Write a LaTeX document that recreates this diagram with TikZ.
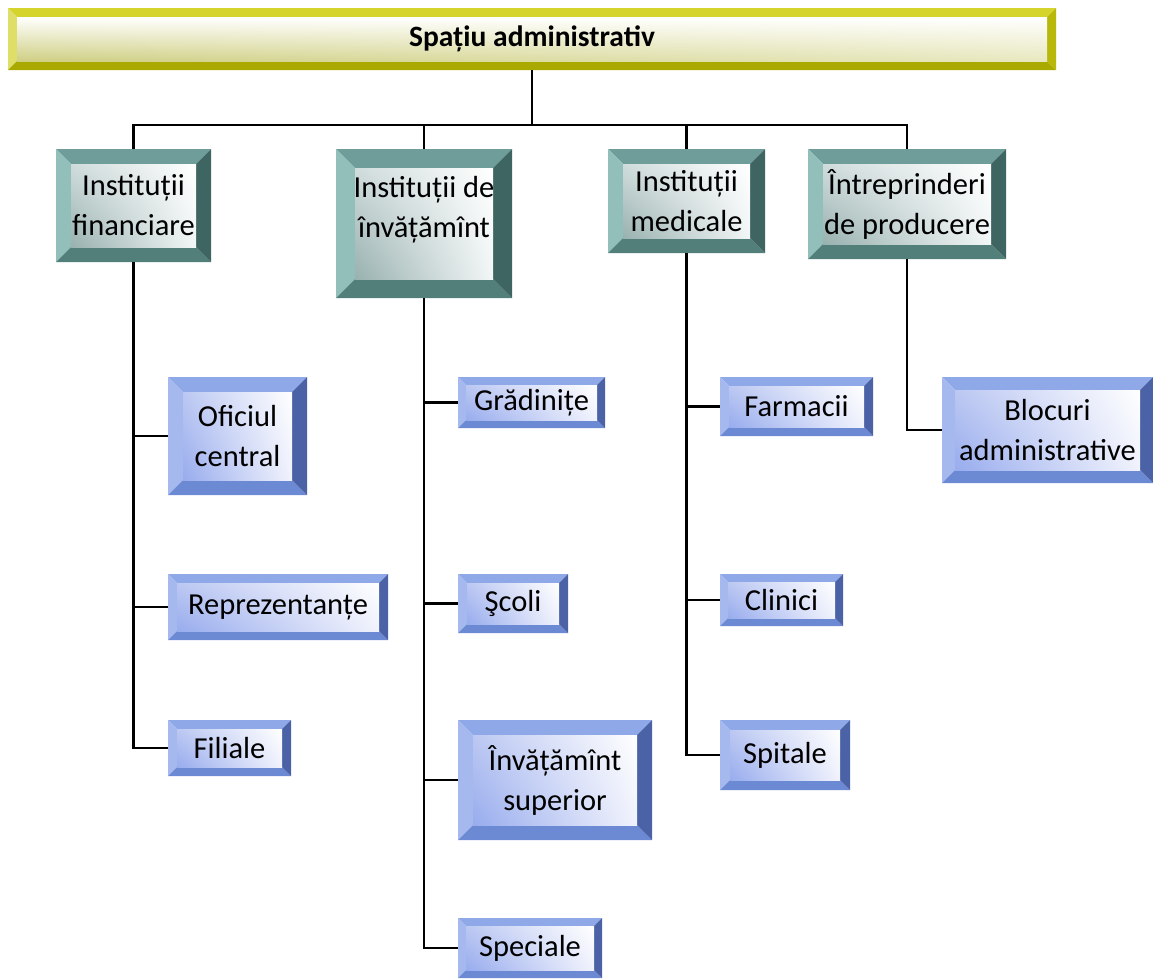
\documentclass[tikz,border=0pt]{standalone}
\usepackage{fontspec}
\setmainfont{Carlito}
\usetikzlibrary{shadings}

% bevel palettes: T/L/B/R = top, left, bottom, right edge; UL/UR/LL/LR = face corners
\definecolor{yelT}{HTML}{D4D42C}
\definecolor{yelL}{HTML}{DEDE68}
\definecolor{yelB}{HTML}{A9A900}
\definecolor{yelR}{HTML}{B8B80A}
\definecolor{yelUL}{HTML}{FFFFFF}
\definecolor{yelUR}{HTML}{FFFFFF}
\definecolor{yelLL}{HTML}{CFCF84}
\definecolor{yelLR}{HTML}{E8E8C0}

\definecolor{tealT}{HTML}{6F9E9A}
\definecolor{tealL}{HTML}{93BFBB}
\definecolor{tealB}{HTML}{537F7B}
\definecolor{tealR}{HTML}{3F6562}
\definecolor{tealUL}{HTML}{D0DCDC}
\definecolor{tealUR}{HTML}{FFFFFF}
\definecolor{tealLL}{HTML}{98B1AF}
\definecolor{tealLR}{HTML}{F2F6F6}

\definecolor{bluT}{HTML}{8EA8E8}
\definecolor{bluL}{HTML}{A5B9EE}
\definecolor{bluB}{HTML}{6C8AD4}
\definecolor{bluR}{HTML}{4B62A6}
\definecolor{bluUL}{HTML}{BCC8F2}
\definecolor{bluUR}{HTML}{FFFFFF}
\definecolor{bluLL}{HTML}{98ACEE}
\definecolor{bluLR}{HTML}{F0F2FC}

% [node options]{name}{x1}{y1}{x2}{y2}{bevel}{palette}{text}
\newcommand\bevbox[9][]{%
  \fill[#8T] (#3,#4) -- (#5,#4) -- (#5-#7,#4+#7) -- (#3+#7,#4+#7) -- cycle;
  \fill[#8L] (#3,#4) -- (#3+#7,#4+#7) -- (#3+#7,#6-#7) -- (#3,#6) -- cycle;
  \fill[#8B] (#3,#6) -- (#3+#7,#6-#7) -- (#5-#7,#6-#7) -- (#5,#6) -- cycle;
  \fill[#8R] (#5,#4) -- (#5,#6) -- (#5-#7,#6-#7) -- (#5-#7,#4+#7) -- cycle;
  \shade[upper left=#8UL, upper right=#8UR, lower left=#8LL, lower right=#8LR]
    (#3+#7,#4+#7) rectangle (#5-#7,#6-#7);
  \node[boxtext, minimum width={(#5-#3)*1pt}, minimum height={(#6-#4)*1pt}, #1]
    (#2) at ({(#3+#5)/2},{(#4+#6)/2}) {#9};%
}

\begin{document}
\begin{tikzpicture}[x=1pt,y=-1pt,
  link/.style={line width=2.2pt, black},
  boxtext/.style={rectangle, inner sep=0pt, align=center,
    font=\fontsize{30.5}{40}\selectfont},
  titletext/.style={font=\fontsize{29.5}{34}\selectfont\bfseries}
]
\useasboundingbox (0,0) rectangle (1153,978);

% title
\bevbox[titletext]{title}{8}{8}{1056}{70}{9}{yel}{Spațiu administrativ}

% first level
\bevbox{fin}{56}{149}{211}{262}{15}{teal}{Instituții\\financiare}
\bevbox{inv}{336}{149}{512}{298}{19}{teal}{Instituții de\\învățămînt\\[-6pt]{}}
\bevbox{med}{608}{149}{765}{253}{15}{teal}{Instituții\\medicale}
\bevbox{prod}{808}{149}{1006}{259}{15}{teal}{Întreprinderi\\de producere}

% second level
\bevbox{ofc}{168}{377}{307}{495}{15}{blu}{Oficiul\\central}
\bevbox{rep}{168}{574}{388}{640}{9}{blu}{Reprezentanțe}
\bevbox{fil}{168}{720}{291}{776}{9}{blu}{Filiale}

\bevbox{gra}{458}{377}{605}{428}{8}{blu}{Grădinițe}
\bevbox{sco}{458}{574}{568}{633}{9}{blu}{Şcoli}
\bevbox{sup}{458}{720}{652}{840}{15}{blu}{Învățămînt\\superior}
\bevbox{spe}{458}{918}{602}{978}{8}{blu}{Speciale}

\bevbox{far}{720}{377}{873}{436}{9}{blu}{Farmacii}
\bevbox{cli}{720}{574}{843}{626}{8}{blu}{Clinici}
\bevbox{spi}{720}{720}{850}{790}{10}{blu}{Spitale}

\bevbox{blo}{942}{377}{1153}{483}{13}{blu}{Blocuri\\administrative}

% connectors
\coordinate (bar) at (0,125);
\draw[link] (title.south) -- (title.south |- bar);
\draw[link] (fin.north) |- (prod.north |- bar) -- (prod.north);
\draw[link] (inv.north) -- (inv.north |- bar);
\draw[link] (med.north) -- (med.north |- bar);

\draw[link] (fin.south) |- (fil.west);
\draw[link] (fin.south |- ofc.west) -- (ofc.west);
\draw[link] (fin.south |- rep.west) -- (rep.west);

\draw[link] (inv.south) |- (spe.west);
\draw[link] (inv.south |- gra.west) -- (gra.west);
\draw[link] (inv.south |- sco.west) -- (sco.west);
\draw[link] (inv.south |- sup.west) -- (sup.west);

\draw[link] (med.south) |- (spi.west);
\draw[link] (med.south |- far.west) -- (far.west);
\draw[link] (med.south |- cli.west) -- (cli.west);

\draw[link] (prod.south) |- (blo.west);
\end{tikzpicture}
\end{document}
